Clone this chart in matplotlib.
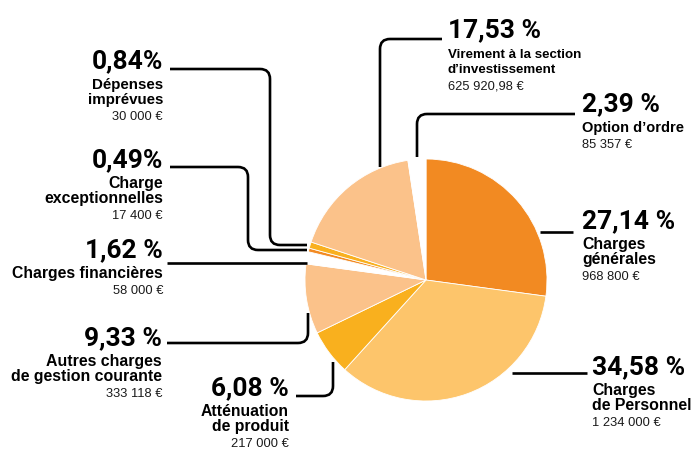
import matplotlib.pyplot as plt
from matplotlib.path import Path
from matplotlib.patches import PathPatch
import numpy as np

# slices, clockwise from 12 o'clock
names = [["Charges", "générales"],
         ["Charges", "de Personnel"],
         ["Atténuation", "de produit"],
         ["Autres charges", "de gestion courante"],
         ["Charges financières"],
         ["Charge", "exceptionnelles"],
         ["Dépenses", "imprévues"],
         ["Virement à la section", "d’investissement"],
         ["Option d’ordre"]]
shares = [27.14, 34.58, 6.08, 9.33, 1.62, 0.49, 0.84, 17.53, 2.39]
pct_labels = ["27,14 %", "34,58 %", "6,08 %", "9,33 %", "1,62 %",
              "0,49%", "0,84%", "17,53 %", "2,39 %"]
amounts = ["968 800 €", "1 234 000 €", "217 000 €", "333 118 €", "58 000 €",
           "17 400 €", "30 000 €", "625 920,98 €", "85 357 €"]

colors = ["#F28A22", "#FDC56B", "#F9B01E", "#FBC28A", "white",
          "#F28A22", "#F9B01E", "#FBC28A", "white"]

# label layout in pixels: (x, percent baseline, alignment)
label_pos = [(582, 228, "left"), (592, 374, "left"), (289, 395, "right"),
             (162, 345, "right"), (163, 257, "right"), (163, 167, "right"),
             (163, 68, "right"), (448, 37, "left"), (582, 111, "left")]
name_sizes = [11.4, 11.4, 11.3, 11.4, 11.3, 11.4, 10.9, 9.6, 10.5]

# leader lines (pixel points, corners get rounded)
leaders = [
    [(573, 232), (540, 232)],
    [(587, 373), (512, 373)],
    [(296, 396), (333, 396), (333, 362)],
    [(167, 343), (308, 343), (308, 313)],
    [(167, 263), (307, 263)],
    [(170, 167), (248, 167), (248, 250), (307, 250)],
    [(170, 69), (270, 69), (270, 245), (307, 245)],
    [(442, 39), (380, 39), (380, 167)],
    [(575, 114), (417, 114), (417, 157)],
]

pct_font = ["Roboto", "DejaVu Sans"]
txt_font = ["Liberation Sans", "DejaVu Sans"]


def leader(ax, pts, r=10):
    pts = [np.array(p, dtype=float) for p in pts]
    verts = [pts[0]]
    codes = [Path.MOVETO]
    for i in range(1, len(pts) - 1):
        c = pts[i]
        u1 = (c - pts[i - 1]) / np.linalg.norm(c - pts[i - 1])
        u2 = (pts[i + 1] - c) / np.linalg.norm(pts[i + 1] - c)
        verts += [c - r * u1, c, c + r * u2]
        codes += [Path.LINETO, Path.CURVE3, Path.CURVE3]
    verts.append(pts[-1])
    codes.append(Path.LINETO)
    ax.add_patch(PathPatch(Path(verts, codes), fill=False, lw=1.9,
                           edgecolor="black", capstyle="butt"))


fig = plt.figure(figsize=(6.95, 4.49), dpi=100)
ax = fig.add_axes([0, 0, 1, 1])

# y axis runs downward, so angles go the other way
ax.pie(shares, colors=colors, startangle=-90, counterclock=True,
       center=(426, 280), radius=121,
       wedgeprops=dict(edgecolor="white", linewidth=0.6))

ax.set_xlim(0, 695)
ax.set_ylim(449, 0)
ax.set_aspect("equal")
ax.axis("off")

for i in range(len(shares)):
    x, y, ha = label_pos[i]
    ax.text(x, y, pct_labels[i], ha=ha, va="baseline", fontsize=19,
            fontweight="bold", family=pct_font)
    yy = y + 21
    for line in names[i]:
        ax.text(x, yy, line, ha=ha, va="baseline", fontsize=name_sizes[i],
                fontweight="bold", family=txt_font)
        yy += 15.3
    ax.text(x, yy + 0.7, amounts[i], ha=ha, va="baseline", fontsize=9.3,
            family=txt_font, color="#1a1a1a")
    leader(ax, leaders[i])

fig.savefig("out.png", dpi=100)
